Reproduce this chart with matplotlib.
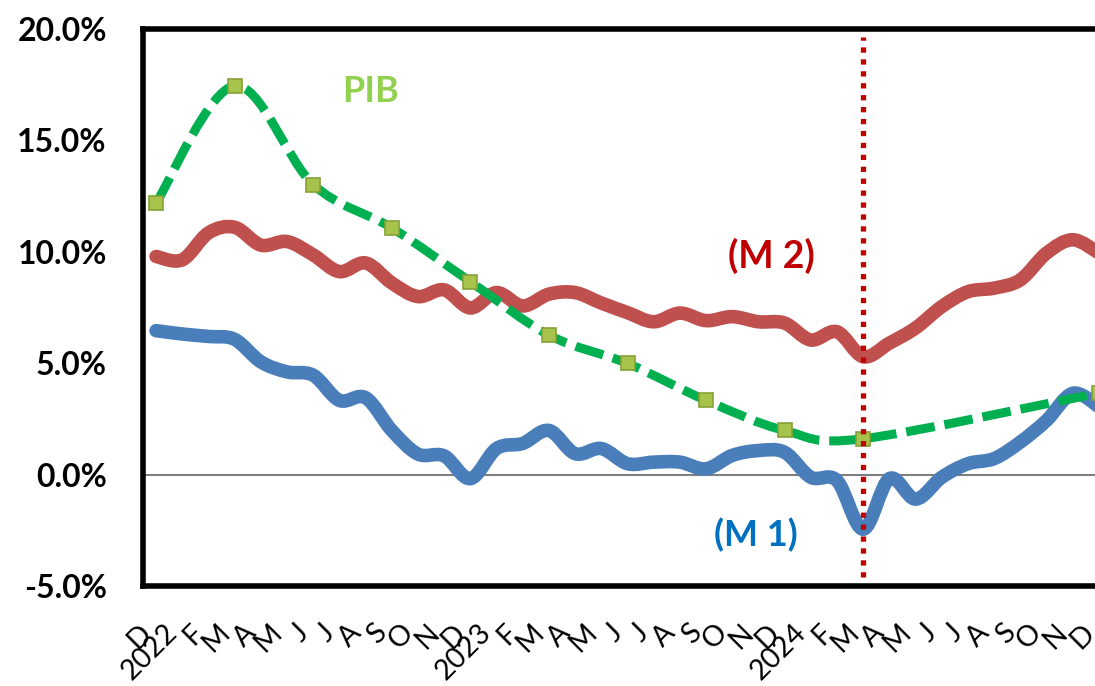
import matplotlib
matplotlib.use("Agg")
import matplotlib.pyplot as plt
from matplotlib.path import Path
from matplotlib.patches import PathPatch
import numpy as np

plt.rcParams['font.family'] = ['Lato', 'DejaVu Sans']

# month labels, Dec 2021 .. Dec 2024
months = ["D", "2022", "F", "M", "A", "M", "J", "J", "A", "S", "O", "N",
          "D", "2023", "F", "M", "A", "M", "J", "J", "A", "S", "O", "N",
          "D", "2024", "F", "M", "A", "M", "J", "J", "A", "S", "O", "N", "D"]

# M2 growth, %
m2 = [9.79, 9.64, 10.85, 11.1, 10.3, 10.46, 9.86, 9.11, 9.5, 8.6, 7.99, 8.29, 7.48,
      8.17, 7.57, 8.1, 8.17, 7.7, 7.27, 6.86, 7.25, 6.91, 7.09, 6.86, 6.8,
      6.04, 6.41, 5.29, 5.9, 6.58, 7.54, 8.21, 8.37, 8.74, 9.94, 10.54, 9.95]

# M1 growth, %
m1 = [6.46, 6.31, 6.2, 6.07, 5.06, 4.61, 4.46, 3.33, 3.45, 1.98, 0.92, 0.84, -0.18,
      1.17, 1.4, 1.98, 0.94, 1.17, 0.49, 0.56, 0.56, 0.26, 0.86, 1.08, 1.0,
      -0.12, -0.27, -2.45, -0.18, -1.1, -0.12, 0.49, 0.72, 1.46, 2.43, 3.65, 3.05]

# PIB (quarterly), month index and value %
pib_idx = [0, 3, 6, 9, 12, 15, 18, 21, 24, 27, 36]
pib = [12.19, 17.45, 13.02, 11.07, 8.66, 6.26, 4.99, 3.33, 1.98, 1.61, 3.66]

event_idx = 27  # vertical marker month


def smooth_path(xs, ys):
    # Catmull-Rom style bezier through the points (like a smoothed line)
    pts = np.column_stack([xs, ys]).astype(float)
    verts = [pts[0]]
    codes = [Path.MOVETO]
    n = len(pts)
    for i in range(n - 1):
        p0 = pts[i - 1] if i > 0 else pts[i]
        p1 = pts[i]
        p2 = pts[i + 1]
        p3 = pts[i + 2] if i + 2 < n else pts[i + 1]
        verts += [p1 + (p2 - p0) / 6.0, p2 - (p3 - p1) / 6.0, p2]
        codes += [Path.CURVE4] * 3
    return Path(verts, codes)


fig = plt.figure(figsize=(10.95, 6.86), dpi=100)
ax = fig.add_axes([143 / 1095, 100 / 686, 969 / 1095, 557 / 686])

x = np.arange(len(months))

ax.add_patch(PathPatch(smooth_path(x, m2), fill=False, edgecolor='#C0504D',
                       lw=9.8, capstyle='round', joinstyle='round', zorder=3))
ax.add_patch(PathPatch(smooth_path(x, m1), fill=False, edgecolor='#4A7EBB',
                       lw=9.8, capstyle='round', joinstyle='round', zorder=3))
ax.add_patch(PathPatch(smooth_path(pib_idx, pib), fill=False, edgecolor='#00B050',
                       lw=6.5, linestyle=(0, (3.2, 1.1)), capstyle='butt', zorder=4))
ax.plot(pib_idx, pib, linestyle='none', marker='s', markersize=10,
        markerfacecolor='#A8C34C', markeredgecolor='#86A236', markeredgewidth=1.2, zorder=5)

ax.axhline(0, color='#808080', lw=1.5, zorder=2)
ax.axvline(event_idx, ymin=0.016, ymax=0.986, color='#C00000', lw=3.8,
           dashes=(1, 1.26), dash_capstyle='butt', zorder=6)

ax.text(8.2, 17.2, "PIB", color='#92D050', fontsize=26, fontweight='bold',
        ha='center', va='center')
ax.text(23.5, 9.8, "(M 2)", color='#C00000', fontsize=27, fontweight='bold',
        ha='center', va='center')
ax.text(22.9, -2.7, "(M 1)", color='#0070C0', fontsize=26, fontweight='bold',
        ha='center', va='center')

ax.set_xlim(-0.5, len(months) - 0.5)
ax.set_ylim(-5, 20)
ax.set_yticks([-5, 0, 5, 10, 15, 20])
ax.set_yticklabels([f"{v:.1f}%" for v in [-5, 0, 5, 10, 15, 20]],
                   fontsize=23, fontweight='bold')
ax.set_xticks(x)
ax.set_xticklabels(months, rotation=45, ha='right', fontsize=20.5)
ax.tick_params(axis='y', length=0, pad=26)
ax.tick_params(axis='x', length=0, pad=24)

for s in ax.spines.values():
    s.set_linewidth(4)
    s.set_color('black')

fig.savefig("out.png", dpi=100)
